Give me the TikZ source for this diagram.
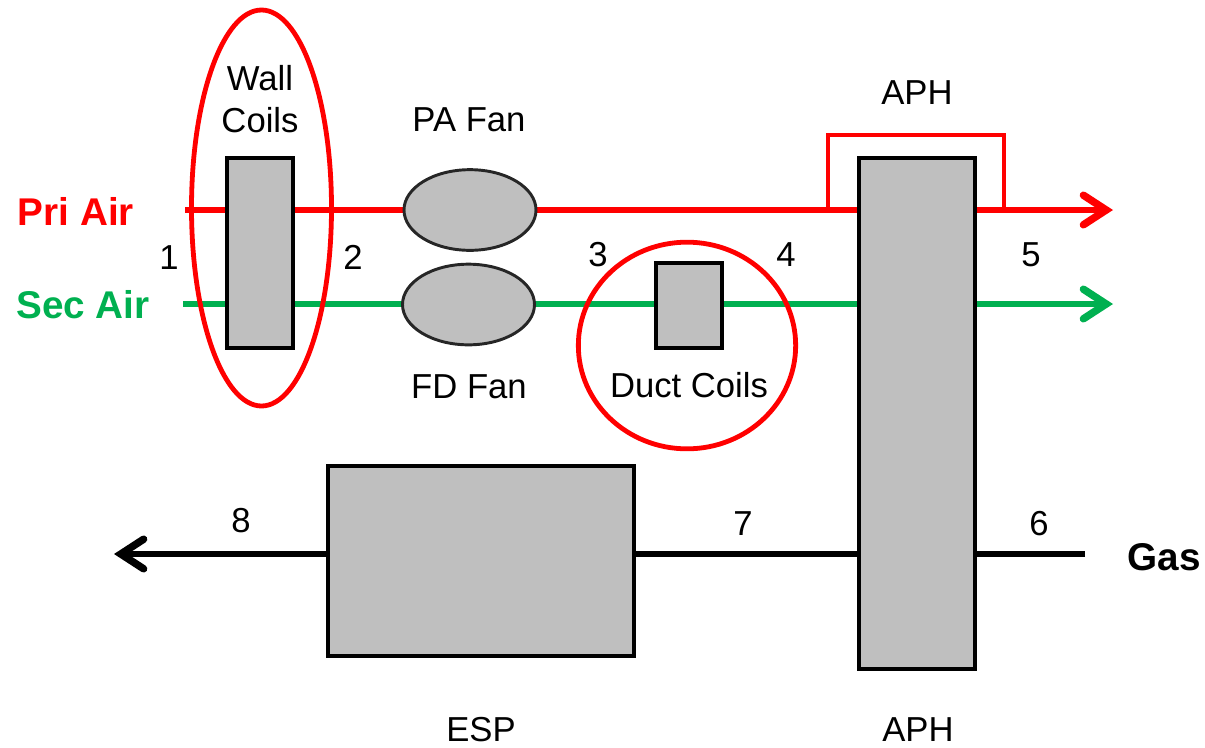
\documentclass[tikz,border=0pt]{standalone}
\usepackage{fontspec}
\setmainfont{Liberation Sans}
\usetikzlibrary{arrows.meta,shapes.geometric}
\definecolor{priair}{RGB}{255,0,0}
\definecolor{secair}{RGB}{0,176,80}
\definecolor{boxgray}{RGB}{191,191,191}
\tikzset{
    unit/.style={draw, line width=3.2pt, fill=boxgray, inner sep=0pt},
    fan/.style={ellipse, draw=black!85, fill=boxgray, line width=2.2pt, inner sep=0pt},
    ring/.style={ellipse, draw=priair, line width=3.6pt, inner sep=0pt},
    lbl/.style={inner sep=0pt, font=\fontsize{26}{32}\selectfont, align=center},
    lblb/.style={inner sep=0pt, font=\fontsize{29}{34}\selectfont\bfseries},
    flow/.style={line width=5pt, -{Straight Barb[line cap=round,line join=miter,length=6mm,width=7.8mm,line width=5.6pt]}}
}
\begin{document}
\begin{tikzpicture}[x=0.75pt,y=-0.75pt]
    \useasboundingbox (0,0) rectangle (1205,747);
    % free ends
    \foreach \k/\i/\j in {pl/185/210, pr/1113/210, sl/183/304, sr/1113/304, gr/1085/554, gl/114/554, bl/828/210, bt/916/135, br/1004/210} {
        \coordinate (\k) at (\i, \j);
    }
    % lines first, boxes go on top
    \draw[flow, draw=priair] (pl) -- (pr);
    \draw[flow, draw=secair] (sl) -- (sr);
    \draw[flow] (gr) -- (gl);
    % equipment
    \node (wall) at (260,253) [unit, minimum width=50pt, minimum height=142.5pt] {};
    \node (duct) at (689,305.5) [unit, minimum width=49.5pt, minimum height=63.5pt] {};
    \node (esp) at (481,561) [unit, minimum width=230pt, minimum height=142.5pt] {};
    \node (aph) at (917,413.5) [unit, minimum width=87pt, minimum height=383pt] {};
    \node (pafan) at (470,210) [fan, minimum width=99pt, minimum height=60.5pt] {};
    \node (fdfan) at (468.5,304.5) [fan, minimum width=99pt, minimum height=60.5pt] {};
    % bypass over the APH
    \draw[line width=2.8pt, draw=priair] (bl) |- (bt) -| (br);
    % red rings
    \node (wallring) at (261.5,208) [ring, minimum width=105pt, minimum height=297pt] {};
    \node (ductring) at (687,345.5) [ring, minimum width=163pt, minimum height=155pt] {};
    % labels
    \node (walltxt) at (260,99) [lbl] {Wall\\Coils};
    \node (patxt) at (469,120) [lbl] {PA Fan};
    \node (fdtxt) at (469,387) [lbl] {FD Fan};
    \node (ducttxt) at (689,385) [lbl] {Duct Coils};
    \node (aphtop) at (917,93) [lbl] {APH};
    \node (aphtxt) at (918,730) [lbl] {APH};
    \node (esptxt) at (481,730) [lbl] {ESP};
    \node (pritxt) at (76,211) [lblb, text=priair] {Pri Air};
    \node (sectxt) at (83,305) [lblb, text=secair] {Sec Air};
    \node (gastxt) at (1164,557) [lblb] {Gas};
    \foreach \n/\i/\j in {1/169/258, 2/353/257, 3/598/255, 4/786/255, 5/1031/255, 6/1039/524, 7/743/524, 8/241/521} {
        \node (st\n) at (\i, \j) [lbl] {\n};
    }
\end{tikzpicture}
\end{document}
